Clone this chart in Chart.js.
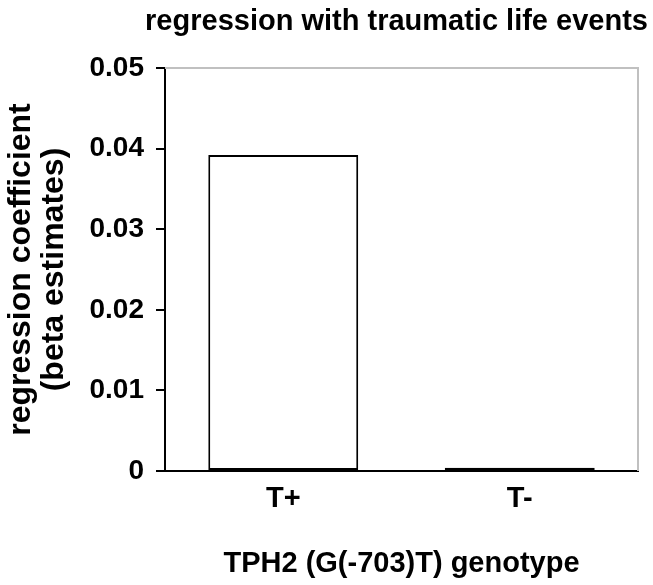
<!DOCTYPE html>
<html>
<head>
<meta charset="utf-8">
<script src="https://cdn.jsdelivr.net/npm/chart.js@4"></script>
<style>
  html, body { margin: 0; padding: 0; background: #fff; }
  #wrap { width: 653px; height: 585px; }
</style>
</head>
<body>
<div id="wrap"><canvas id="c" width="653" height="585"></canvas></div>
<script>
const categories = ["T+", "T-"];
const betaValues = [0.0392, 0.0004];
const yTicks = [0, 0.01, 0.02, 0.03, 0.04, 0.05];
const chartTitle = "regression with traumatic life events";
const xTitle = "TPH2 (G(-703)T) genotype";
const yTitle = ["regression coefficient", "(beta estimates)"];

const FONT = "'Liberation Sans', Arial, sans-serif";

const frameBorder = {
  id: 'frameBorder',
  afterDatasetsDraw(chart) {
    const a = chart.chartArea, ctx = chart.ctx;
    ctx.save();
    ctx.strokeStyle = '#c0c0c0';
    ctx.lineWidth = 2;
    ctx.beginPath();
    ctx.moveTo(a.left, a.top);
    ctx.lineTo(a.right, a.top);
    ctx.lineTo(a.right, a.bottom);
    ctx.stroke();
    ctx.restore();
  }
};

// Title drawn centred over the plot area, without horizontal compression
const plotTitle = {
  id: 'plotTitle',
  afterDraw(chart) {
    const a = chart.chartArea, ctx = chart.ctx;
    ctx.save();
    ctx.fillStyle = '#000';
    ctx.font = "bold 29px " + FONT;
    ctx.textAlign = 'center';
    ctx.textBaseline = 'middle';
    ctx.fillText(chartTitle, (a.left + a.right) / 2 - 5, 22);
    ctx.restore();
  }
};

new Chart(document.getElementById('c'), {
  type: 'bar',
  data: {
    labels: categories,
    datasets: [{
      data: betaValues,
      backgroundColor: '#ffffff',
      borderColor: '#000000',
      borderWidth: 2,
      borderSkipped: false,
      categoryPercentage: 1.0,
      barPercentage: 0.634
    }]
  },
  options: {
    responsive: false,
    animation: false,
    devicePixelRatio: 1,
    layout: { padding: { left: 0, right: 15, top: 68, bottom: 0 } },
    plugins: {
      legend: { display: false },
      tooltip: { enabled: false },
      title: { display: false }
    },
    scales: {
      x: {
        grid: { display: false },
        border: { color: '#000', width: 2 },
        ticks: {
          color: '#000',
          font: { family: FONT, size: 29, weight: 'bold' },
          padding: 3
        },
        title: {
          display: true,
          text: xTitle,
          color: '#000',
          font: { family: FONT, size: 29, weight: 'bold' },
          padding: { top: 26 }
        },
        afterFit(scale) { scale.height = 114; }
      },
      y: {
        min: 0,
        max: 0.05,
        afterBuildTicks(scale) { scale.ticks = yTicks.map(v => ({ value: v })); },
        grid: {
          drawOnChartArea: false,
          drawTicks: true,
          tickLength: 9,
          color: '#000',
          lineWidth: 2
        },
        border: { color: '#000', width: 2 },
        ticks: {
          color: '#000',
          font: { family: FONT, size: 28, weight: 'bold' },
          padding: 12,
          callback: (v) => v === 0 ? '0' : v.toFixed(2)
        },
        title: {
          display: true,
          text: yTitle,
          color: '#000',
          font: { family: FONT, size: 32, weight: 'bold', lineHeight: 1.05 },
          padding: { top: 4, bottom: 0 }
        },
        afterFit(scale) { scale.width = 165; }
      }
    }
  },
  plugins: [frameBorder, plotTitle]
});
</script>
</body>
</html>
